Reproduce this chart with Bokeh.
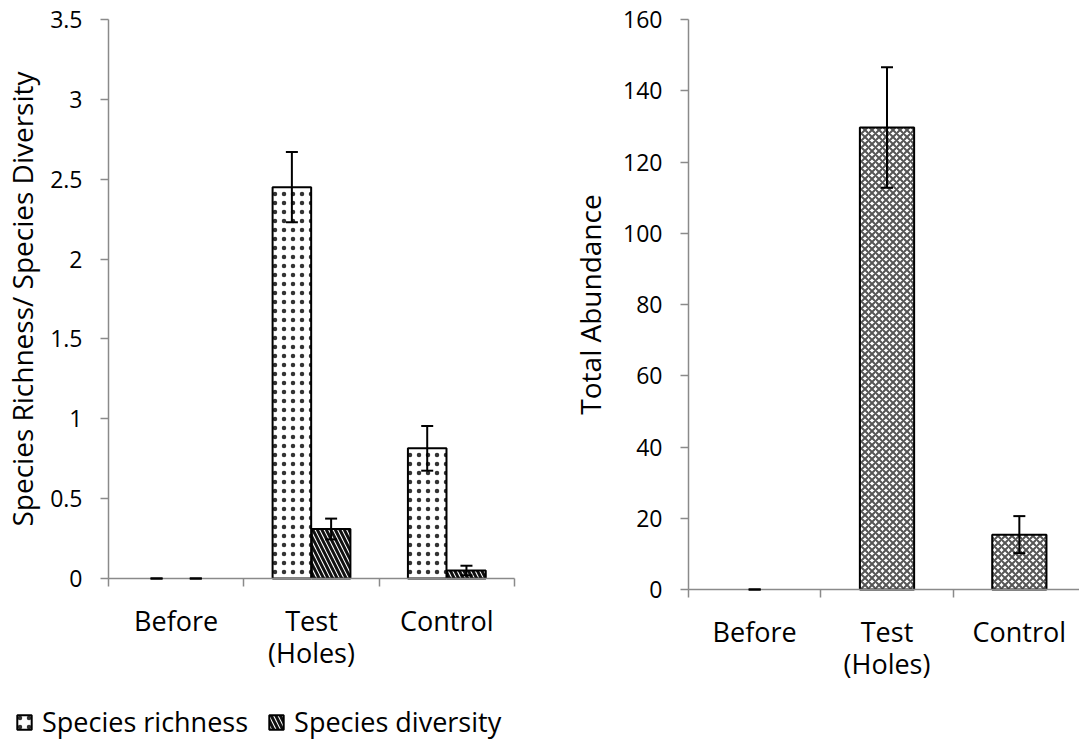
import numpy as np
from bokeh.plotting import figure
from bokeh.models import (ColumnDataSource, Whisker, TeeHead, FixedTicker, Legend,
                          LegendItem, NumeralTickFormatter, Range1d)
from bokeh.layouts import row
from bokeh.embed import file_html
from bokeh.resources import INLINE

# ---------------- data ----------------
categories = ["Before", "Test\n(Holes)", "Control"]
richness = [0.0, 2.45, 0.815]
richness_err = [0.0, 0.22, 0.14]
diversity = [0.0, 0.31, 0.05]
diversity_err = [0.0, 0.065, 0.03]
abundance = [0.0, 129.7, 15.4]
abundance_err = [0.0, 16.9, 5.2]
left_yticks = [0, 0.5, 1, 1.5, 2, 2.5, 3, 3.5]
right_yticks = [0, 20, 40, 60, 80, 100, 120, 140, 160]
series_labels = ["Species richness", "Species diversity"]
left_ytitle = "Species Richness/ Species Diversity"
right_ytitle = "Total Abundance"

FONT = "Open Sans"
AXIS_COLOR = "#8a8a8a"
TICK_FS = "23px"
CAT_FS = "27px"
TITLE_FS = "28px"

xpos = np.arange(len(categories)).astype(float)
x_lo = -0.5
x_hi = len(categories) - 0.5
H = 740


def make_fig(W, ax_left_px, ax_right_px, ax_top_px, ax_bottom_px, yticks, title, title_standoff):
    """Frame fills the whole canvas; axes are drawn at fixed data locations."""
    y_top = yticks[-1]
    sx = (ax_right_px - ax_left_px) / (x_hi - x_lo)
    sy = (ax_bottom_px - ax_top_px) / y_top
    x_start = x_lo - ax_left_px / sx
    x_end = x_start + W / sx
    y_end = y_top + ax_top_px / sy
    y_start = y_end - H / sy

    p = figure(frame_width=W, frame_height=H,
               x_range=Range1d(x_start, x_end), y_range=Range1d(y_start, y_end),
               output_backend="svg", toolbar_location=None,
               min_border_left=0, min_border_right=0, min_border_top=0, min_border_bottom=0)
    p.grid.visible = False
    p.outline_line_color = None
    p.background_fill_color = "white"
    p.border_fill_color = "white"

    xa = p.xaxis[0]
    xa.fixed_location = 0
    xa.bounds = (x_lo, x_hi)
    xa.ticker = FixedTicker(ticks=[float(v) for v in xpos],
                            minor_ticks=[float(v) - 0.5 for v in range(len(categories) + 1)])
    xa.major_label_overrides = {float(i): c for i, c in enumerate(categories)}
    xa.major_tick_out = 0
    xa.major_tick_in = 0
    xa.major_tick_line_color = None
    xa.minor_tick_out = 8
    xa.minor_tick_in = 0
    xa.minor_tick_line_color = AXIS_COLOR
    xa.minor_tick_line_width = 1.5
    xa.axis_line_color = AXIS_COLOR
    xa.axis_line_width = 1.5
    xa.major_label_text_font = FONT
    xa.major_label_text_font_size = CAT_FS
    xa.major_label_text_color = "black"
    xa.major_label_text_line_height = 0.87
    xa.major_label_standoff = 15

    ya = p.yaxis[0]
    ya.fixed_location = x_lo
    ya.bounds = (0, y_top)
    ya.ticker = FixedTicker(ticks=yticks, minor_ticks=[])
    ya.formatter = NumeralTickFormatter(format="0.[0]")
    ya.major_tick_out = 8
    ya.major_tick_in = 0
    ya.minor_tick_out = 0
    ya.minor_tick_in = 0
    ya.major_tick_line_color = AXIS_COLOR
    ya.major_tick_line_width = 1.5
    ya.axis_line_color = AXIS_COLOR
    ya.axis_line_width = 1.5
    ya.major_label_text_font = FONT
    ya.major_label_text_font_size = TICK_FS
    ya.major_label_text_color = "black"
    ya.major_label_standoff = 18
    ya.axis_label = title
    ya.axis_label_text_font = FONT
    ya.axis_label_text_font_size = TITLE_FS
    ya.axis_label_text_font_style = "normal"
    ya.axis_label_text_color = "black"
    ya.axis_label_standoff = title_standoff
    return p


def whisker(src):
    return Whisker(source=src, base="x", upper="hi", lower="lo", level="overlay",
                   line_color="black", line_width=2,
                   upper_head=TeeHead(size=12, line_color="black", line_width=2),
                   lower_head=TeeHead(size=12, line_color="black", line_width=2))


# ---------------- left chart ----------------
p1 = make_fig(560, 108, 514, 19, 578, left_yticks, left_ytitle, 6)

off = 0.145
src_r = ColumnDataSource(dict(
    x=xpos - off, top=richness,
    lo=[v - e for v, e in zip(richness, richness_err)],
    hi=[v + e for v, e in zip(richness, richness_err)],
    la=[1.0 if v > 0 else 0.0 for v in richness]))
src_d = ColumnDataSource(dict(
    x=xpos + off, top=diversity,
    lo=[v - e for v, e in zip(diversity, diversity_err)],
    hi=[v + e for v, e in zip(diversity, diversity_err)],
    la=[1.0 if v > 0 else 0.0 for v in diversity]))

r1 = p1.vbar(x="x", top="top", bottom=0, width=0.285, source=src_r,
             fill_color="white", line_color="black", line_width=2, line_alpha="la",
             hatch_pattern="dot", hatch_scale=9, hatch_weight=2, hatch_color="#333333")
r2 = p1.vbar(x="x", top="top", bottom=0, width=0.285, source=src_d,
             fill_color="white", line_color="black", line_width=2, line_alpha="la",
             hatch_pattern="left_diagonal_line", hatch_scale=9, hatch_weight=3,
             hatch_color="#111111")

p1.add_layout(whisker(src_r))
p1.add_layout(whisker(src_d))

legend = Legend(items=[LegendItem(label=series_labels[0], renderers=[r1], index=1),
                       LegendItem(label=series_labels[1], renderers=[r2], index=1)],
                location=(15, 0), orientation="horizontal",
                glyph_width=18, glyph_height=18, label_standoff=9, spacing=19,
                padding=0, margin=0, border_line_alpha=0, background_fill_alpha=0,
                label_text_font=FONT, label_text_font_size=CAT_FS,
                label_text_color="black", label_text_baseline="middle")
p1.add_layout(legend)

# ---------------- right chart ----------------
p2 = make_fig(519, 128, 525, 19, 589, right_yticks, right_ytitle, 11)

src_a = ColumnDataSource(dict(
    x=xpos, top=abundance,
    lo=[v - e for v, e in zip(abundance, abundance_err)],
    hi=[v + e for v, e in zip(abundance, abundance_err)],
    la=[1.0 if v > 0 else 0.0 for v in abundance]))
p2.vbar(x="x", top="top", bottom=0, width=0.41, source=src_a,
        fill_color="white", line_color="black", line_width=2, line_alpha="la",
        hatch_pattern="diagonal_cross", hatch_scale=7, hatch_weight=2, hatch_color="#555555")
p2.add_layout(whisker(src_a))

layout = row(p1, p2)
open("out.html", "w").write(file_html(layout, INLINE))
